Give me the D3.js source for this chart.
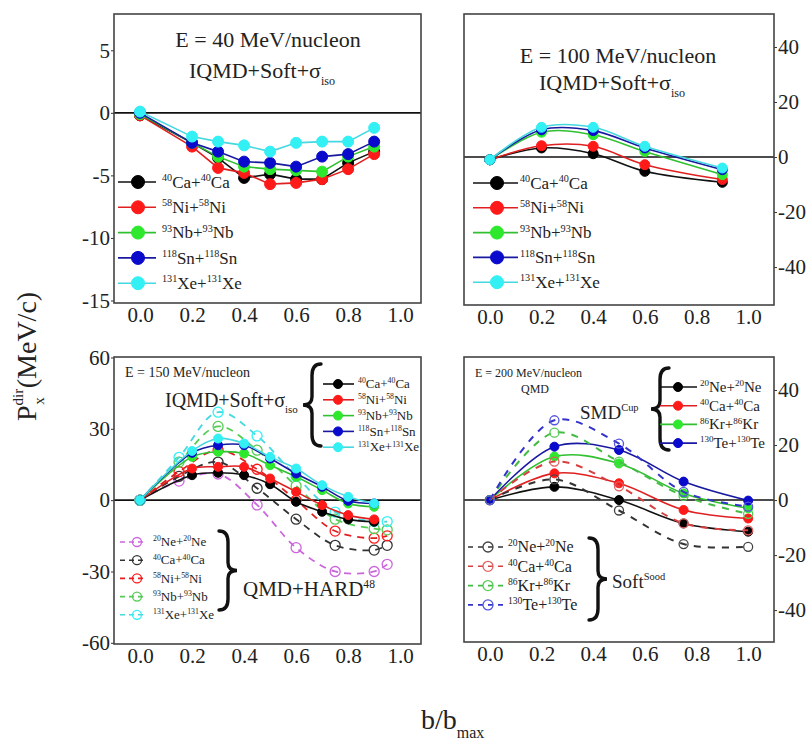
<!DOCTYPE html>
<html>
<head>
<meta charset="utf-8">
<script src="https://cdnjs.cloudflare.com/ajax/libs/d3/7.8.5/d3.min.js"></script>
<style>
  body { margin: 0; background: #fff; }
  svg text { font-family: "Liberation Serif", "Times New Roman", serif; fill: #222; }
</style>
</head>
<body>
<svg id="chart" width="807" height="742"></svg>
<script>
// ---------- data ----------
const xTicks = [0, 0.2, 0.4, 0.6, 0.8, 1.0];

// E = 40 MeV/nucleon
const b40 = [0, 0.2, 0.3, 0.4, 0.5, 0.6, 0.7, 0.8, 0.9];
const ca40 = [-0.2, -2.4, -3.6, -5.2, -4.9, -5.3, -5.3, -4.0, -3.1];
const ni40 = [-0.2, -2.7, -4.4, -4.8, -5.7, -5.6, -5.3, -4.5, -3.3];
const nb40 = [-0.1, -2.4, -3.5, -4.3, -4.5, -4.6, -4.7, -3.5, -2.7];
const sn40 = [0, -2.4, -3.1, -3.9, -4.0, -4.3, -3.5, -3.3, -2.3];
const xe40 = [0.1, -1.9, -2.3, -2.6, -3.1, -2.4, -2.3, -2.3, -1.2];

// E = 100 MeV/nucleon
const b100 = [0, 0.2, 0.4, 0.6, 0.9];
const ca100 = [-1, 3.3, 1.2, -5.2, -9.2];
const ni100 = [-1, 4.1, 3.9, -2.8, -8.2];
const nb100 = [-1, 9.0, 8.1, 2.0, -6.4];
const sn100 = [-1, 9.9, 9.6, 3.3, -4.6];
const xe100 = [-1, 10.8, 10.8, 3.9, -4.0];

// E = 150 MeV/nucleon
const b150 = [0, 0.2, 0.3, 0.4, 0.5, 0.6, 0.7, 0.8, 0.9];
const ca150 = [0, 10.5, 11.5, 10.5, 6.7, -0.7, -4.9, -8.1, -9.1];
const ni150 = [0, 13.3, 14, 14, 9.1, 3.5, -2.1, -6.3, -8.1];
const nb150 = [0, 18.2, 20.3, 19.6, 14.7, 9.8, 4.2, -1.4, -2.8];
const sn150 = [0, 19.9, 23.1, 23.1, 17.5, 11.2, 5.6, -0.3, -1.4];
const xe150 = [0, 20.7, 25.9, 23.8, 18.2, 13.3, 6.3, 1.4, -1.4];
const bHard = [0, 0.15, 0.3, 0.45, 0.6, 0.75, 0.9, 0.95];
const neHard = [0, 8, 11, -2, -20, -30, -30, -27];
const caHard = [0, 10, 16, 5, -8, -19, -21, -19];
const niHard = [0, 12, 21, 13, 0, -13, -16, -15];
const nbHard = [0, 16, 31, 21, 6, -8, -12, -12.5];
const xeHard = [0, 18, 37, 27, 10, -5, -9, -9];

// E = 200 MeV/nucleon
const b200 = [0, 0.25, 0.5, 0.75, 1.0];
const neSmd = [0, 4.8, 0, -8.5, -11.5];
const caSmd = [0, 9.7, 6.1, -3.6, -6.7];
const krSmd = [0, 15.8, 13.3, 2.4, -3];
const teSmd = [0, 19.4, 18.2, 6.7, -0.2];
const neSoft = [0, 7.5, -3.8, -16, -17];
const caSoft = [0, 14, 5, -8.5, -11];
const krSoft = [0, 24.5, 14, 1.5, -5];
const teSoft = [0, 29, 20.5, 3, -2.4];

const labels40 = ['40Ca+40Ca', '58Ni+58Ni', '93Nb+93Nb', '118Sn+118Sn', '131Xe+131Xe'];
const labelsHard = ['20Ne+20Ne', '40Ca+40Ca', '58Ni+58Ni', '93Nb+93Nb', '131Xe+131Xe'];
const labels200 = ['20Ne+20Ne', '40Ca+40Ca', '86Kr+86Kr', '130Te+130Te'];

const C = {
  black: { fill: '#000', line: '#111' },
  red: { fill: '#ff1a1a', line: '#e02020' },
  green: { fill: '#2ee82e', line: '#30c030' },
  blue: { fill: '#0a0acc', line: '#1818a0' },
  cyan: { fill: '#33f0f5', line: '#45d8e0' },
  magenta: { fill: '#cc66dd', line: '#cc66dd' }
};

const svg = d3.select('#chart');
const serif = '"Liberation Serif", "Times New Roman", serif';

function drawPanel(p) {
  const x = d3.scaleLinear().domain(p.xDomain).range([p.left, p.right]);
  const y = d3.scaleLinear().domain(p.yDomain).range([p.bottom, p.top]);
  const g = svg.append('g');

  g.append('line')
    .attr('x1', p.left).attr('x2', p.right)
    .attr('y1', y(0)).attr('y2', y(0))
    .attr('stroke', '#111').attr('stroke-width', 1.6);

  const xa = g.append('g')
    .attr('transform', `translate(0,${p.bottom})`)
    .call(d3.axisBottom(x).tickValues(xTicks).tickFormat(d3.format('.1f')).tickSize(0).tickPadding(4));
  const yAxis = p.side === 'left' ? d3.axisLeft(y) : d3.axisRight(y);
  const ya = g.append('g')
    .attr('transform', `translate(${p.side === 'left' ? p.left : p.right},0)`)
    .call(yAxis.tickValues(p.yTicks).tickFormat(d => String(d)).tickSize(3).tickPadding(1));
  [xa, ya].forEach(a => {
    a.attr('font-family', serif).attr('font-size', 21);
    a.select('.domain').remove();
    a.selectAll('line').attr('stroke', '#333');
    a.selectAll('text').attr('fill', '#222');
  });

  g.append('rect')
    .attr('x', p.left).attr('y', p.top)
    .attr('width', p.right - p.left).attr('height', p.bottom - p.top)
    .attr('fill', 'none').attr('stroke', '#444').attr('stroke-width', 1.6);

  return { x, y, g };
}

function drawSeries(ctx, xs, ys, s) {
  const pts = xs.map((b, i) => [b, ys[i]]);
  const line = d3.line()
    .x(d => ctx.x(d[0]))
    .y(d => ctx.y(d[1]))
    .curve(s.curve || d3.curveLinear);
  ctx.g.append('path')
    .datum(pts)
    .attr('d', line)
    .attr('fill', 'none')
    .attr('stroke', s.color.line)
    .attr('stroke-width', s.width || 1.6)
    .attr('stroke-dasharray', s.dash || null);
  ctx.g.append('g')
    .selectAll('circle')
    .data(pts)
    .enter()
    .append('circle')
    .attr('cx', d => ctx.x(d[0]))
    .attr('cy', d => ctx.y(d[1]))
    .attr('r', s.r)
    .attr('fill', s.open ? 'none' : s.color.fill)
    .attr('stroke', s.color.fill)
    .attr('stroke-width', s.open ? 1.3 : 1);
}

// label with superscript mass numbers
function isoText(parent, x, y, str, size, anchor) {
  const t = parent.append('text').attr('x', x).attr('y', y)
    .attr('font-size', size).attr('text-anchor', anchor || 'start');
  const shift = size * 0.38;
  let up = false;
  str.split(/(\d+)/).filter(s => s).forEach(part => {
    const num = /^\d+$/.test(part);
    const ts = t.append('tspan').text(part);
    if (num) {
      ts.attr('font-size', size * 0.6).attr('dy', up ? 0 : -shift);
      up = true;
    } else {
      ts.attr('font-size', size).attr('dy', up ? shift : 0);
      up = false;
    }
  });
  return t;
}

// text with a sub- or superscript tail
function scriptText(parent, x, y, main, tail, size, kind, anchor) {
  const t = parent.append('text').attr('x', x).attr('y', y)
    .attr('font-size', size).attr('text-anchor', anchor || 'start');
  t.append('tspan').text(main);
  t.append('tspan').text(tail)
    .attr('font-size', size * 0.55)
    .attr('dy', kind === 'sub' ? size * 0.3 : -size * 0.4);
  return t;
}

function legendRow(parent, x1, x2, cx, y, color, r, open, dash, label, lx, size) {
  parent.append('line')
    .attr('x1', x1).attr('x2', x2).attr('y1', y).attr('y2', y)
    .attr('stroke', color.line).attr('stroke-width', 1.6)
    .attr('stroke-dasharray', dash || null);
  parent.append('circle')
    .attr('cx', cx).attr('cy', y).attr('r', r)
    .attr('fill', open ? 'none' : color.fill)
    .attr('stroke', color.fill).attr('stroke-width', open ? 1.3 : 1);
  isoText(parent, lx, y + size * 0.33, label, size);
}

function brace(parent, x, y1, y2, w, dir) {
  const ym = (y1 + y2) / 2, h = y2 - y1;
  const d = `M${x - dir * w},${y1} Q${x},${y1} ${x},${y1 + h * 0.14} L${x},${ym - h * 0.1} ` +
    `Q${x},${ym} ${x + dir * w},${ym} Q${x},${ym} ${x},${ym + h * 0.1} ` +
    `L${x},${y2 - h * 0.14} Q${x},${y2} ${x - dir * w},${y2}`;
  parent.append('path').attr('d', d).attr('fill', 'none')
    .attr('stroke', '#111').attr('stroke-width', 3.4).attr('stroke-linecap', 'round');
}

const smooth = d3.curveCatmullRom.alpha(0.5);
const order5 = [C.black, C.red, C.green, C.blue, C.cyan];

// ---------- panel 1: 40 MeV ----------
const p1 = drawPanel({ left: 114, right: 421, top: 14, bottom: 303,
  xDomain: [-0.1, 1.08], yDomain: [-15.2, 7.9], yTicks: [5, 0, -5, -10, -15], side: 'left' });
[ca40, ni40, nb40, sn40, xe40].forEach((ys, i) =>
  drawSeries(p1, b40, ys, { color: order5[i], r: 5.5, width: 1.6 }));
p1.g.append('text').attr('x', 268).attr('y', 47).attr('font-size', 22)
  .attr('text-anchor', 'middle').text('E = 40 MeV/nucleon');
scriptText(p1.g, 262, 78, 'IQMD+Soft+σ', 'iso', 22, 'sub', 'middle');
labels40.forEach((lab, i) =>
  legendRow(p1.g, 118, 156, 138, 182 + i * 25.3, order5[i], 6.5, false, null, lab, 162, 17));

// ---------- panel 2: 100 MeV ----------
const p2 = drawPanel({ left: 464, right: 774, top: 14, bottom: 305,
  xDomain: [-0.1, 1.1], yDomain: [-53.8, 52], yTicks: [40, 20, 0, -20, -40], side: 'right' });
[ca100, ni100, nb100, sn100, xe100].forEach((ys, i) =>
  drawSeries(p2, b100, ys, { color: order5[i], r: 5, width: 1.6, curve: smooth }));
p2.g.append('text').attr('x', 618).attr('y', 63).attr('font-size', 22)
  .attr('text-anchor', 'middle').text('E = 100 MeV/nucleon');
scriptText(p2.g, 612, 90, 'IQMD+Soft+σ', 'iso', 22, 'sub', 'middle');
labels40.forEach((lab, i) =>
  legendRow(p2.g, 473, 518, 497, 183 + i * 24.8, order5[i], 6.5, false, null, lab, 520, 17));

// ---------- panel 3: 150 MeV ----------
const p3 = drawPanel({ left: 114, right: 421, top: 357, bottom: 644,
  xDomain: [-0.1, 1.08], yDomain: [-60.5, 60.2], yTicks: [60, 30, 0, -30, -60], side: 'left' });
const hardCols = [C.magenta, { fill: '#333', line: '#333' }, C.red, { fill: '#55cc55', line: '#55cc55' }, C.cyan];
[neHard, caHard, niHard, nbHard, xeHard].forEach((ys, i) =>
  drawSeries(p3, bHard, ys, { color: hardCols[i], r: 5, width: 1.8, open: true, dash: '7,6', curve: smooth }));
[ca150, ni150, nb150, sn150, xe150].forEach((ys, i) =>
  drawSeries(p3, b150, ys, { color: order5[i], r: 4.5, width: 1.6, curve: smooth }));
p3.g.append('text').attr('x', 125).attr('y', 377).attr('font-size', 14).text('E = 150 MeV/nucleon');
scriptText(p3.g, 165, 407, 'IQMD+Soft+σ', 'iso', 20, 'sub');
brace(p3.g, 312, 364, 446, 9, -1);
labels40.forEach((lab, i) =>
  legendRow(p3.g, 323, 354, 338, 384 + i * 15.8, order5[i], 4.5, false, null, lab, 358, 13));
labelsHard.forEach((lab, i) =>
  legendRow(p3.g, 120, 144, 137, 542 + i * 18.2, hardCols[i], 4.5, true, '5,4', lab, 153, 13));
brace(p3.g, 228, 531, 610, 9, 1);
scriptText(p3.g, 243, 596, 'QMD+HARD', '48', 21, 'sup');

// ---------- panel 4: 200 MeV ----------
const p4 = drawPanel({ left: 464, right: 774, top: 357, bottom: 642,
  xDomain: [-0.1, 1.1], yDomain: [-51.6, 52], yTicks: [40, 20, 0, -20, -40], side: 'right' });
const cols4 = [C.black, C.red, C.green, C.blue];
const softCols = [{ fill: '#444', line: '#333' }, { fill: '#e06060', line: '#d84040' },
  { fill: '#55cc55', line: '#44bb44' }, { fill: '#5555dd', line: '#3333cc' }];
[neSmd, caSmd, krSmd, teSmd].forEach((ys, i) =>
  drawSeries(p4, b200, ys, { color: cols4[i], r: 4.5, width: 1.6, curve: smooth }));
[neSoft, caSoft, krSoft, teSoft].forEach((ys, i) =>
  drawSeries(p4, b200, ys, { color: softCols[i], r: 4.5, width: 2, open: true, dash: '7,7', curve: smooth }));
p4.g.append('text').attr('x', 475).attr('y', 377).attr('font-size', 12).text('E = 200 MeV/nucleon');
p4.g.append('text').attr('x', 535).attr('y', 393).attr('font-size', 12).attr('text-anchor', 'middle').text('QMD');
scriptText(p4.g, 580, 419, 'SMD', 'Cup', 19, 'sup');
brace(p4.g, 660, 368, 450, 9, -1);
labels200.forEach((lab, i) =>
  legendRow(p4.g, 660, 697, 678, 387 + i * 18.7, cols4[i], 4.5, false, null, lab, 700, 15));
labels200.forEach((lab, i) =>
  legendRow(p4.g, 468, 506, 488, 547 + i * 19.3, softCols[i], 5, true, '5,5', lab, 508, 16));
brace(p4.g, 598, 538, 620, 9, 1);
scriptText(p4.g, 612, 588, 'Soft', 'Sood', 19, 'sup');

// ---------- shared axis titles ----------
const yt = svg.append('text')
  .attr('transform', 'translate(36,421) rotate(-90)')
  .attr('font-size', 28);
yt.append('tspan').text('P');
yt.append('tspan').text('dir').attr('font-size', 15).attr('dy', -13);
yt.append('tspan').text('x').attr('font-size', 15).attr('dx', -16).attr('dy', 21);
yt.append('tspan').text('(MeV/c)').attr('dx', 9).attr('dy', -8);

const xt = svg.append('text').attr('x', 421).attr('y', 729).attr('font-size', 28);
xt.append('tspan').text('b/b');
xt.append('tspan').text('max').attr('font-size', 16).attr('dy', 9);
</script>
</body>
</html>
